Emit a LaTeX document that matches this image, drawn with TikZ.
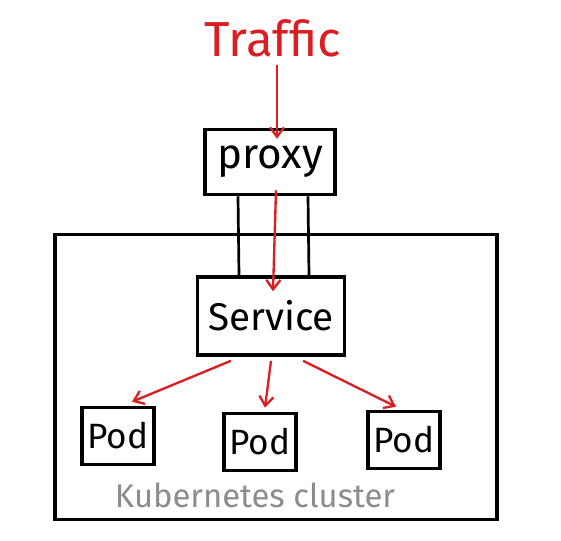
\documentclass[tikz,border=0pt]{standalone}
\usepackage{fontspec}
\setmainfont{Fira Sans}
\usepackage{xcolor}
\usetikzlibrary{arrows.meta,positioning,calc}
\definecolor{flowred}{RGB}{218,30,34}
\definecolor{clustergray}{RGB}{140,140,140}
\tikzset{
  hbox/.style 2 args={
    rectangle, draw=black, line width=3pt,
    minimum width=#1, minimum height=#2,
    inner sep=0pt, align=center
  },
  podbox/.style={hbox={2.16cm}{1.71cm}, font=\fontsize{30}{34}\selectfont},
  flow/.style={-{Straight Barb[length=8pt, width=12pt, line width=2pt]},
    line width=2pt, flowred},
  link/.style={line width=2.3pt, black}
}

\begin{document}
\begin{tikzpicture}[x=0.03cm, y=-0.03cm]
\useasboundingbox (0,0) rectangle (561,541);

% Cluster frame
\node[hbox={13.26cm}{8.55cm}, line width=2.6pt] (cluster) at (276,377) {};
\node[text=clustergray, font=\fontsize{28}{32}\selectfont] (clusterlbl) at (255,495)
  {Kubernetes cluster};

% Incoming traffic
\node[text=flowred, font=\fontsize{42}{46}\selectfont] (traffic) at (273,38) {Traffic};

% Proxy and service
\node[hbox={3.9cm}{1.95cm}, font=\fontsize{36}{40}\selectfont] (proxy) at (270,162) {proxy};
\node[hbox={4.41cm}{2.34cm}, font=\fontsize{33}{36}\selectfont] (service) at (271,316) {Service};

% Pods
\node[podbox] (pod1) at (118,436) {Pod};
\node[podbox] (pod2) at (260,442) {Pod};
\node[podbox] (pod3) at (404,440) {Pod};

% ── Connectors ──────────────────────────────────────────────
\draw[link] ($(proxy.south)+(-32,0)$) -- ($(service.north)+(-32,0)$);
\draw[link] ($(proxy.south)+(38,0)$) -- ($(service.north)+(38,0)$);

\draw[flow] ($(traffic.south)+(4,4)$) -- ($(proxy.north)+(7,11)$);
\draw[flow] ($(proxy.south)+(6,-6)$) -- ($(service.north)+(2,16)$);

\draw[flow] ($(service.south)+(-40,4)$) -- ($(pod1.north)+(14,-4)$);
\draw[flow] ($(service.south)+(0,4)$) -- ($(pod2.north)+(5,-4)$);
\draw[flow] ($(service.south)+(32,4)$) -- ($(pod3.north)+(-8,-3)$);

\end{tikzpicture}
\end{document}
